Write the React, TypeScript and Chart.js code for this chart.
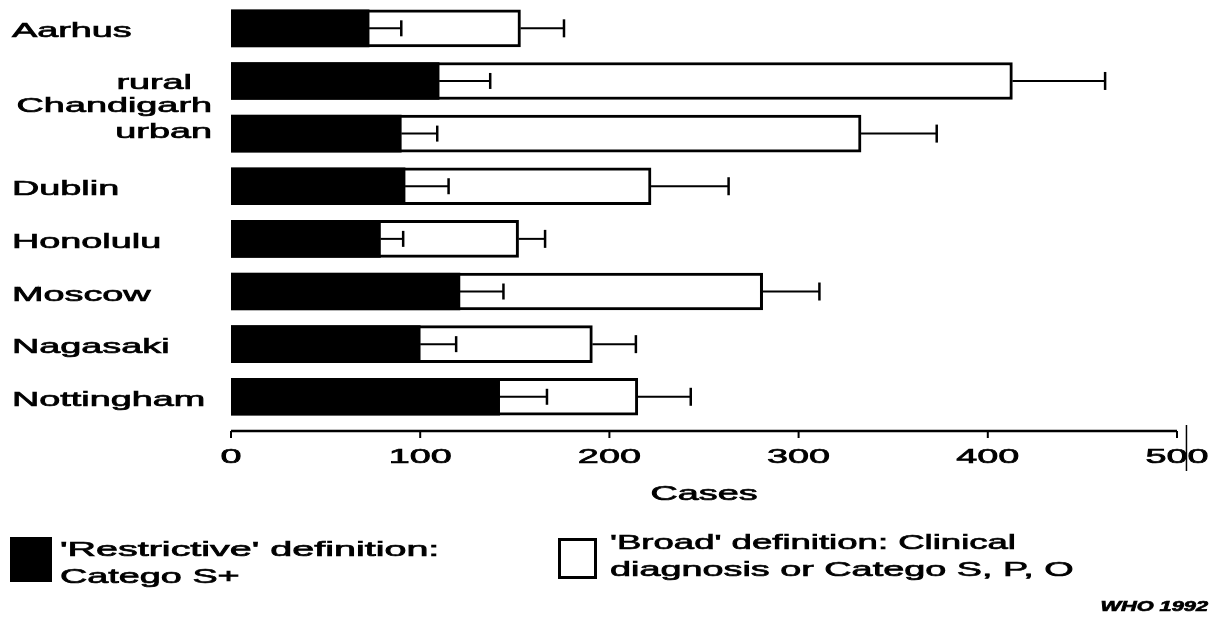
import React, { useEffect, useRef } from 'react';
import { Chart, registerables } from 'chart.js';

Chart.register(...registerables);

// ---- data ----
const categories = ['Aarhus', 'Chandigarh rural', 'Chandigarh urban', 'Dublin', 'Honolulu', 'Moscow', 'Nagasaki', 'Nottingham'];
const rowLabels = ['Aarhus', 'rural', 'urban', 'Dublin', 'Honolulu', 'Moscow', 'Nagasaki', 'Nottingham'];
const groupLabel = 'Chandigarh';
const restrictive = [73, 110, 90, 92, 79, 121, 100, 142];
const restrictiveErr = [17, 27, 19, 23, 12, 23, 19, 25];
const broad = [153, 413, 333, 222, 152, 281, 191, 215];
const broadErr = [23, 49, 40, 41, 14, 30, 23, 28];
const xTicks = [0, 100, 200, 300, 400, 500];
const xTitle = 'Cases';
const legendRestrictive = ["'Restrictive' definition:", 'Catego S+'];
const legendBroad = ["'Broad' definition: Clinical", 'diagnosis or Catego S, P, O'];
const credit = 'WHO 1992';

const SX = 1.8;
const FONT = '21px "Liberation Sans", Arial, sans-serif';

function drawText(ctx: CanvasRenderingContext2D, s: string, x: number, y: number, align: string, font: string = FONT, sx: number = SX) {
  ctx.save();
  ctx.font = font;
  const w = ctx.measureText(s).width * sx;
  const left = align === 'left' ? x : align === 'right' ? x - w : x - w / 2;
  ctx.translate(left, y);
  ctx.scale(sx, 1);
  ctx.textAlign = 'left';
  ctx.textBaseline = 'alphabetic';
  ctx.fillStyle = '#000';
  ctx.strokeStyle = '#000';
  ctx.lineWidth = 0.7;
  ctx.fillText(s, 0, 0);
  ctx.strokeText(s, 0, 0);
  ctx.restore();
}

const decorPlugin = {
  id: 'decor',
  afterDatasetsDraw(chart: any) {
    const ctx: CanvasRenderingContext2D = chart.ctx;
    const xs = chart.scales.x;
    const ys = chart.scales.y;
    const area = chart.chartArea;
    ctx.save();
    ctx.strokeStyle = '#000';
    ctx.lineCap = 'butt';

    // error bars
    for (let i = 0; i < categories.length; i++) {
      const y = ys.getPixelForValue(i);
      const pairs = [
        [restrictive[i], restrictiveErr[i], 8],
        [broad[i], broadErr[i], 9],
      ];
      for (const [v, e, h] of pairs) {
        const x1 = xs.getPixelForValue(v);
        const x2 = xs.getPixelForValue(v + e);
        ctx.lineWidth = 2;
        ctx.beginPath();
        ctx.moveTo(x1, y);
        ctx.lineTo(x2, y);
        ctx.stroke();
        ctx.lineWidth = 2.5;
        ctx.beginPath();
        ctx.moveTo(x2, y - h);
        ctx.lineTo(x2, y + h);
        ctx.stroke();
      }
    }

    // x axis line and ticks
    const axisY = area.bottom;
    ctx.lineWidth = 2.5;
    ctx.beginPath();
    ctx.moveTo(xs.getPixelForValue(xTicks[0]), axisY);
    ctx.lineTo(xs.getPixelForValue(xTicks[xTicks.length - 1]), axisY);
    ctx.stroke();
    ctx.lineWidth = 2;
    for (const t of xTicks) {
      const x = xs.getPixelForValue(t);
      ctx.beginPath();
      ctx.moveTo(x, axisY);
      ctx.lineTo(x, axisY + 7);
      ctx.stroke();
      drawText(ctx, String(t), x, axisY + 32, 'center');
    }
    // scan artifact stroke near the last tick
    const ax = xs.getPixelForValue(505);
    ctx.lineWidth = 1.5;
    ctx.beginPath();
    ctx.moveTo(ax, axisY - 6);
    ctx.lineTo(ax, axisY + 40);
    ctx.stroke();

    drawText(ctx, xTitle, (area.left + area.right) / 2, axisY + 69, 'center');

    // y labels
    for (let i = 0; i < rowLabels.length; i++) {
      const y = ys.getPixelForValue(i);
      if (i === 1) {
        drawText(ctx, rowLabels[i], 192, y + 8, 'right');
      } else if (i === 2) {
        drawText(ctx, rowLabels[i], 212, y + 4, 'right');
      } else {
        drawText(ctx, rowLabels[i], 12, y + 9, 'left');
      }
    }
    const gy = (ys.getPixelForValue(1) + ys.getPixelForValue(2)) / 2;
    drawText(ctx, groupLabel, 212, gy + 5, 'right');

    // legend
    ctx.fillStyle = '#000';
    ctx.fillRect(10, 537, 42, 45);
    drawText(ctx, legendRestrictive[0], 60, 556, 'left', FONT, 1.88);
    drawText(ctx, legendRestrictive[1], 60, 583, 'left');
    ctx.lineWidth = 3;
    ctx.strokeRect(559.5, 539.5, 36, 38);
    drawText(ctx, legendBroad[0], 610, 549, 'left', FONT, 1.74);
    drawText(ctx, legendBroad[1], 610, 576, 'left');

    drawText(ctx, credit, 1208, 611, 'right', 'italic bold 15px "Liberation Sans", Arial, sans-serif', 1.45);
    ctx.restore();
  },
};

export default function App() {
  const ref = useRef<HTMLCanvasElement>(null);
  useEffect(() => {
    if (!ref.current) return;
    const chart = new Chart(ref.current, {
      type: 'bar',
      data: {
        labels: categories,
        datasets: [
          {
            label: 'Restrictive',
            data: restrictive.map((v, i) => ({ x: v, y: i })),
            backgroundColor: '#000',
            borderWidth: 0,
            grouped: false,
            barThickness: 37,
          } as any,
          {
            label: 'Broad',
            data: broad.map((v, i) => ({ x: v, y: i })),
            backgroundColor: '#fff',
            borderColor: '#000',
            borderWidth: 3,
            grouped: false,
            barThickness: 37,
          } as any,
        ],
      },
      options: {
        indexAxis: 'y',
        responsive: false,
        animation: false,
        devicePixelRatio: 1,
        layout: { padding: { left: 231, right: 42, top: 2, bottom: 189 } },
        scales: {
          x: { type: 'linear', min: 0, max: 500, display: false },
          y: { type: 'linear', min: -0.5, max: 7.65, reverse: true, offset: false, display: false },
        },
        plugins: { legend: { display: false }, tooltip: { enabled: false } },
      },
      plugins: [decorPlugin],
    });
    return () => chart.destroy();
  }, []);
  return (
    <div style={{ position: 'absolute', left: 0, top: 0, width: 1219, height: 620, background: '#fff' }}>
      <canvas ref={ref} width={1219} height={620} style={{ display: 'block' }} />
    </div>
  );
}
